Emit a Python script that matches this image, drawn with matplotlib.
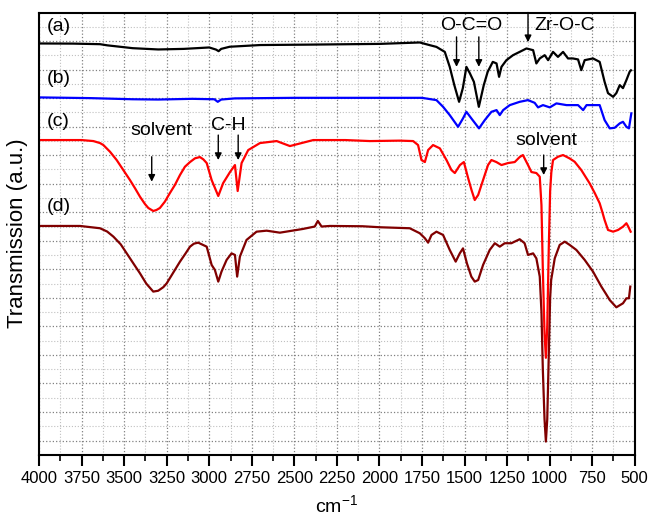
import matplotlib
matplotlib.use("Agg")
import matplotlib.pyplot as plt
from matplotlib.ticker import MultipleLocator

plt.rcParams['font.family'] = ['Liberation Sans', 'DejaVu Sans']
plt.rcParams['mathtext.default'] = 'regular'

# FTIR spectra, wavenumber (cm-1) and offset transmission (a.u.)
wn_a = [4000, 3800, 3642, 3600, 3450, 3300, 3150, 3000, 2960, 2945, 2930, 2880, 2700,
        2400, 2000, 1763, 1704, 1665, 1616, 1587, 1560, 1532, 1510, 1489, 1469, 1445,
        1416, 1387, 1364, 1334, 1312, 1297, 1283, 1254, 1215, 1176, 1136, 1097, 1078,
        1058, 1029, 1009, 980, 951, 921, 892, 863, 833, 814, 794, 745, 706, 677, 657,
        627, 608, 588, 569, 549, 530, 522]
tr_a = [28.83, 28.82, 28.78, 28.70, 28.50, 28.41, 28.45, 28.55, 28.40, 28.29, 28.45,
        28.60, 28.72, 28.75, 28.80, 28.90, 28.71, 28.59, 28.24, 27.19, 25.91, 24.74,
        25.70, 27.19, 26.75, 26.14, 24.39, 25.91, 26.84, 27.54, 27.43, 26.49, 27.19,
        27.66, 28.01, 28.24, 28.48, 28.36, 27.43, 27.78, 28.01, 27.66, 28.24, 27.89,
        28.24, 27.78, 27.78, 27.71, 26.96, 27.66, 27.78, 27.54, 26.14, 25.35, 25.09,
        25.35, 25.91, 25.70, 26.26, 26.84, 26.95]

wn_b = [4000, 3700, 3450, 3300, 3100, 2970, 2950, 2930, 2850, 2500, 2000, 1750, 1665,
        1626, 1587, 1538, 1509, 1489, 1460, 1415, 1381, 1342, 1312, 1293, 1273, 1234,
        1176, 1127, 1088, 1068, 1039, 999, 960, 901, 833, 803, 783, 706, 677, 647, 618,
        588, 569, 549, 534, 520]
tr_b = [25.05, 25.00, 24.92, 24.90, 24.95, 24.92, 24.74, 24.90, 24.98, 25.02, 25.02,
        25.02, 24.86, 24.39, 23.81, 22.99, 23.58, 24.04, 23.58, 22.88, 23.46, 24.04,
        24.16, 23.81, 24.16, 24.51, 24.74, 24.86, 24.67, 24.35, 24.51, 24.35, 24.63,
        24.51, 24.51, 24.16, 24.51, 24.51, 23.46, 22.88, 22.92, 23.23, 23.34, 22.99,
        22.88, 23.93]

wn_c = [4000, 3750, 3681, 3642, 3622, 3583, 3544, 3505, 3466, 3436, 3407, 3378, 3358,
        3329, 3310, 3290, 3261, 3231, 3202, 3172, 3143, 3113, 3084, 3055, 3035, 3015,
        2986, 2947, 2918, 2878, 2849, 2833, 2810, 2771, 2702, 2604, 2526, 2389, 2200,
        2056, 1880, 1802, 1773, 1753, 1733, 1714, 1685, 1645, 1606, 1577, 1557, 1527,
        1504, 1479, 1459, 1440, 1420, 1391, 1362, 1342, 1313, 1283, 1244, 1205, 1176,
        1157, 1127, 1107, 1078, 1058, 1048, 1040, 1030, 1022, 1014, 1005, 997, 990,
        980, 951, 921, 882, 853, 814, 765, 735, 706, 690, 677, 657, 627, 598, 569, 549,
        540, 524]
tr_c = [22.06, 22.06, 21.99, 21.85, 21.71, 21.24, 20.66, 19.96, 19.26, 18.68, 18.09,
        17.58, 17.30, 17.09, 17.16, 17.30, 17.74, 18.35, 18.91, 19.61, 20.19, 20.52,
        20.78, 20.87, 20.71, 20.45, 19.26, 18.14, 19.05, 19.82, 20.31, 18.49, 20.45,
        21.36, 21.85, 21.99, 21.64, 22.06, 22.06, 21.99, 22.02, 21.99, 21.71, 20.66,
        20.52, 21.36, 21.71, 21.48, 20.66, 19.96, 19.75, 20.31, 20.52, 19.40, 18.56,
        17.86, 18.21, 19.26, 20.31, 20.66, 20.52, 20.31, 20.45, 20.52, 20.87, 21.01,
        20.31, 19.82, 19.75, 19.49, 17.50, 13.00, 8.50, 6.80, 9.00, 14.50, 18.50,
        19.80, 20.66, 20.89, 21.01, 20.77, 20.54, 19.96, 19.03, 18.35, 17.63, 17.00,
        16.46, 15.76, 15.64, 15.76, 15.99, 16.23, 16.04, 15.64]

wn_d = [4000, 3759, 3642, 3600, 3563, 3520, 3485, 3445, 3407, 3370, 3329, 3300, 3270,
        3250, 3210, 3172, 3140, 3113, 3090, 3065, 3015, 2986, 2967, 2947, 2928, 2898,
        2869, 2849, 2836, 2820, 2781, 2722, 2663, 2585, 2450, 2380, 2362, 2340, 2291,
        2100, 1998, 1822, 1763, 1733, 1714, 1694, 1665, 1626, 1587, 1552, 1528, 1509,
        1486, 1460, 1440, 1420, 1391, 1352, 1322, 1293, 1264, 1225, 1176, 1147, 1127,
        1097, 1078, 1058, 1048, 1040, 1030, 1022, 1014, 1005, 997, 991, 970, 941, 911,
        882, 843, 794, 745, 696, 670, 647, 608, 569, 549, 534, 526]
tr_d = [16.04, 16.04, 15.88, 15.65, 15.29, 14.75, 14.12, 13.40, 12.72, 12.00, 11.44,
        11.50, 11.75, 12.02, 12.80, 13.54, 14.10, 14.59, 14.80, 14.87, 14.59, 13.31,
        12.96, 12.14, 12.84, 13.66, 14.12, 14.01, 12.49, 13.89, 15.06, 15.64, 15.71,
        15.57, 15.83, 16.00, 16.39, 16.00, 16.04, 16.02, 15.95, 15.88, 15.53, 15.18,
        14.87, 15.41, 15.64, 15.41, 14.36, 13.54, 14.12, 14.47, 13.42, 12.49, 12.14,
        12.25, 13.31, 14.36, 14.83, 14.59, 14.83, 14.83, 15.11, 14.83, 14.01, 14.12,
        13.77, 12.49, 10.00, 6.00, 2.50, 0.93, 2.50, 7.00, 11.00, 12.25, 13.77, 14.71,
        14.94, 14.71, 14.36, 13.66, 12.84, 11.79, 11.30, 10.85, 10.34, 10.62, 10.97,
        10.97, 11.79]

fig = plt.figure(figsize=(6.51, 5.21), dpi=100)
ax = fig.add_axes([0.060, 0.127, 0.915, 0.849])

ax.plot(wn_a, tr_a, color='black', lw=1.6)
ax.plot(wn_b, tr_b, color='#0000ff', lw=1.6)
ax.plot(wn_d, tr_d, color='#800000', lw=1.6)
ax.plot(wn_c, tr_c, color='#ff0000', lw=1.6)

ax.set_xlim(4000, 500)
ax.set_ylim(0, 31)

# grid: darker dotted at major, lighter at minor
ax.xaxis.set_major_locator(MultipleLocator(250))
ax.xaxis.set_minor_locator(MultipleLocator(125))
ax.set_yticks(range(1, 31, 2))
ax.set_yticks(range(2, 31, 2), minor=True)
ax.grid(which='major', color='#808080', linestyle=':', lw=0.9)
ax.grid(which='minor', color='#c0c0c0', linestyle=':', lw=0.8)
ax.set_axisbelow(True)

ax.tick_params(axis='x', which='major', direction='out', length=8, width=1.5, labelsize=12)
ax.tick_params(axis='x', which='minor', direction='out', length=4, width=1.2)
ax.tick_params(axis='y', which='both', length=0, labelleft=False)
for s in ax.spines.values():
    s.set_linewidth(1.5)

ax.set_xlabel('cm$^{-1}$', fontsize=14, labelpad=6)
ax.set_ylabel('Transmission (a.u.)', fontsize=16, labelpad=8)

# curve labels
for lab, yv in [('(a)', 30.0), ('(b)', 26.38), ('(c)', 23.34), ('(d)', 17.39)]:
    ax.text(3955, yv, lab, fontsize=14, ha='left', va='center')

arrow = dict(arrowstyle='-|>', color='black', lw=1.0, mutation_scale=10,
             shrinkA=0, shrinkB=0)

ax.text(3280, 22.7, 'solvent', fontsize=14, ha='center', va='center')
ax.annotate('', xy=(3338, 19.14), xytext=(3338, 20.89), arrowprops=arrow)

ax.text(2888, 23.11, 'C-H', fontsize=14, ha='center', va='center')
for w in [2947, 2830]:
    ax.annotate('', xy=(w, 20.66), xytext=(w, 22.41), arrowprops=arrow)

ax.text(1459, 30.06, 'O-C=O', fontsize=14, ha='center', va='center')
for w in [1547, 1416]:
    ax.annotate('', xy=(w, 27.19), xytext=(w, 29.29), arrowprops=arrow)

ax.text(1088, 30.06, 'Zr-O-C', fontsize=14, ha='left', va='center')
ax.annotate('', xy=(1127, 28.92), xytext=(1127, 31.0), arrowprops=arrow)

ax.text(1019, 22.06, 'solvent', fontsize=14, ha='center', va='center')
ax.annotate('', xy=(1035, 19.61), xytext=(1035, 21.01), arrowprops=arrow)

fig.savefig('out.png', dpi=100)
